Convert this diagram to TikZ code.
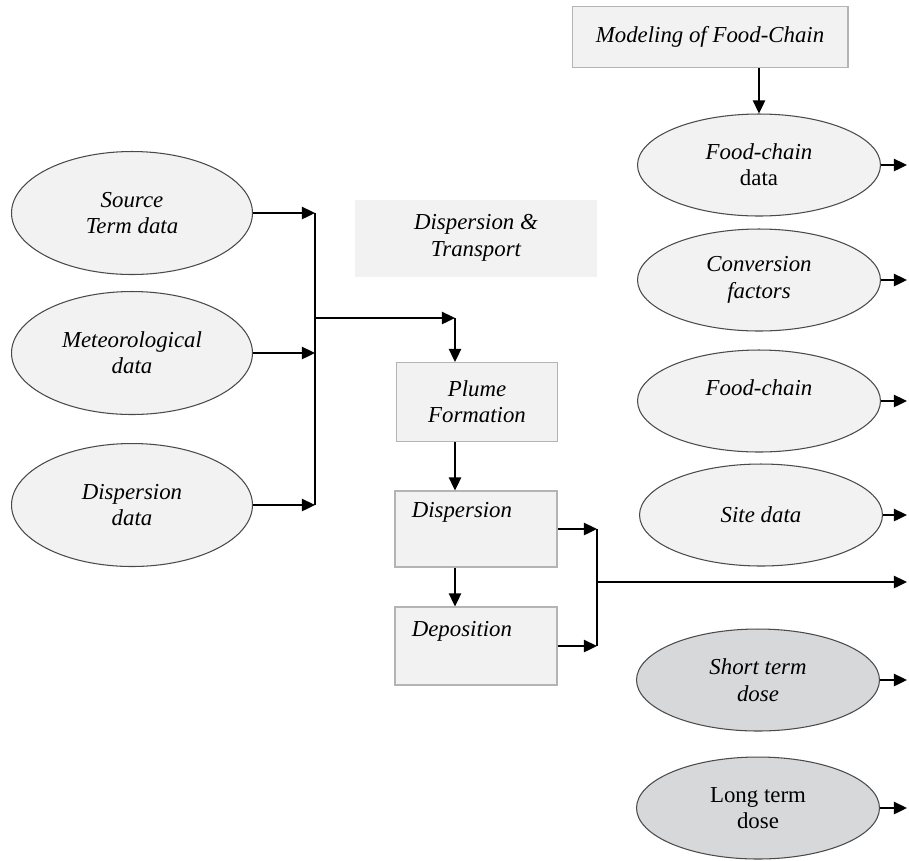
\documentclass[tikz,border=0pt]{standalone}
\usepackage{fontspec}
\setmainfont{Liberation Serif}
\usetikzlibrary{shapes.geometric,arrows.meta}

\definecolor{lightfill}{HTML}{F2F2F2}
\definecolor{darkfill}{HTML}{D6D8DA}
\definecolor{boxline}{HTML}{B4B4B4}
\definecolor{ellline}{HTML}{4A4A4A}

\tikzset{
  >={Triangle[length=7.5pt,width=7pt]},
  every node/.style={font=\fontsize{13}{15}\selectfont\itshape, align=center},
  ell/.style={ellipse, draw=ellline, line width=0.6pt, fill=lightfill, inner sep=0pt},
  leftell/.style={ell, minimum width=4.82cm, minimum height=2.46cm},
  rightell/.style={ell, minimum width=4.86cm, minimum height=2.04cm},
  doseell/.style={rightell, fill=darkfill},
  blk/.style={rectangle, draw=boxline, line width=0.6pt, fill=lightfill, inner sep=0pt},
  boxtext/.style={anchor=west, inner sep=0pt, xshift=0.34cm},
  link/.style={line width=1.1pt, ->},
  bus/.style={line width=1.1pt},
}

\begin{document}
\begin{tikzpicture}[x=0.02cm, y=-0.02cm]
  \useasboundingbox (0,0) rectangle (909,860);

  % boxes in the middle and on top
  \node[blk, minimum width=5.52cm, minimum height=1.22cm] (model) at (710,37) {Modeling of Food-Chain};
  \node[blk, draw=none, minimum width=4.86cm, minimum height=1.54cm] (dt) at (476,238) {Dispersion \&\\Transport};
  \node[blk, minimum width=3.22cm, minimum height=1.58cm] (plume) at (477,402) {Plume\\Formation};
  \node[blk, minimum width=3.24cm, minimum height=1.52cm,
        label={[boxtext, yshift=-0.44cm]north west:Dispersion}] (disp) at (476,529) {};
  \node[blk, minimum width=3.24cm, minimum height=1.56cm,
        label={[boxtext, yshift=-0.5cm]north west:Deposition}] (dep) at (476,646) {};

  % input data
  \node[leftell] (src) at (132,213) {Source\\Term data};
  \node[leftell] (met) at (132,353) {Meteorological\\data};
  \node[leftell] (dd) at (132,505) {Dispersion\\data};

  % food-chain column
  \node[rightell] (fcd) at (759,165) {Food-chain\\\textup{data}};
  \node[rightell] (cf) at (759,280) {Conversion\\factors};
  \node[rightell] (fc) at (759,401) {Food-chain\\\mbox{}};
  \node[rightell] (sd) at (761,515) {Site data};
  \node[doseell] (st) at (758,680) {Short term\\dose};
  \node[doseell] (lt) at (758,808) {\textup{Long term}\\\textup{dose}};

  \coordinate (busl) at (315,0);
  \coordinate (busr) at (597,0);
  \coordinate (rim) at (907,0);
  \coordinate (jout) at (315,318);
  \coordinate (bend) at (455,318);
  \coordinate (jright) at (597,582);

  \foreach \n in {src,met,dd}
    \draw[link] (\n.east) -- (\n.east -| busl);
  \draw[bus] (src.east -| busl) -- (dd.east -| busl);
  \draw[link] (jout) -- (bend);
  \draw[link] (bend) -- (bend |- plume.north);
  \draw[link] (bend |- plume.south) -- (bend |- disp.north);
  \draw[link] (bend |- disp.south) -- (bend |- dep.north);

  \foreach \n in {disp,dep}
    \draw[link] (\n.east) -- (\n.east -| busr);
  \draw[bus] (disp.east -| busr) -- (dep.east -| busr);
  \draw[link] (jright) -- (jright -| rim);

  \draw[link] (model.south -| fcd) -- (fcd.north);
  \foreach \n in {fcd,cf,fc,sd,st,lt}
    \draw[link] (\n.east) -- (\n.east -| rim);
\end{tikzpicture}
\end{document}
